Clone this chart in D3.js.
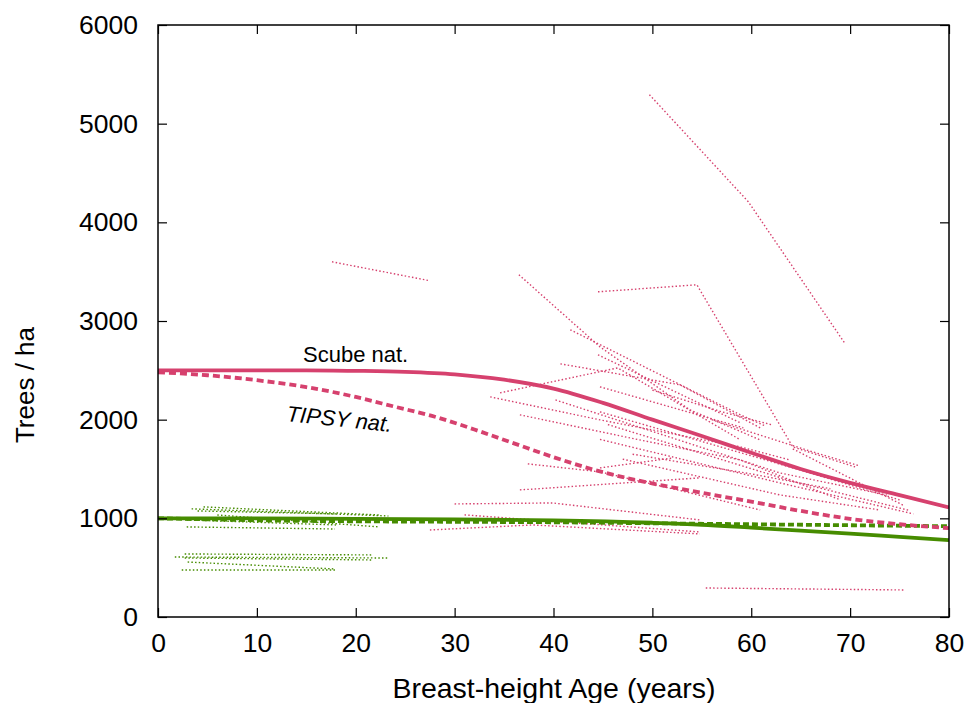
<!DOCTYPE html>
<html>
<head>
<meta charset="utf-8">
<script src="https://cdn.jsdelivr.net/npm/d3@7"></script>
<style>
  html, body { margin: 0; padding: 0; background: #fff; }
  svg { display: block; }
  text { font-family: "Liberation Sans", Arial, Helvetica, sans-serif; fill: #000; }
</style>
</head>
<body>
<svg id="chart" width="971" height="703"></svg>
<script>
// ---------------- data ----------------
const xTicks = [0, 10, 20, 30, 40, 50, 60, 70, 80];
const yTicks = [0, 1000, 2000, 3000, 4000, 5000, 6000];

// Scube natural (red, solid) and TIPSY natural (red, dashed)
const redScubeAge = [0, 5, 10, 15, 20, 25, 30, 35, 40, 45, 50, 55, 60, 65, 70, 75, 80];
const redScubeN   = [2500, 2500, 2500, 2500, 2495, 2485, 2460, 2405, 2315, 2170, 2000, 1835, 1665, 1500, 1360, 1235, 1110];
const redTipsyAge = [0, 5, 10, 15, 20, 24, 28, 32, 36, 40, 44, 48, 52, 56, 60, 65, 70, 75, 80];
const redTipsyN   = [2480, 2450, 2400, 2330, 2230, 2130, 2030, 1900, 1760, 1620, 1495, 1395, 1315, 1240, 1170, 1075, 995, 940, 900];

// green series
const greenScubeAge = [0, 10, 20, 30, 40, 50, 55, 60, 65, 70, 75, 80];
const greenScubeN   = [1000, 1000, 995, 990, 980, 955, 935, 905, 875, 845, 812, 780];
const greenTipsyAge = [0, 5, 10, 20, 30, 40, 50, 60, 70, 80];
const greenTipsyN   = [1000, 990, 980, 970, 965, 960, 950, 940, 930, 920];

// observed plot trajectories (red, dotted): [age, trees/ha]
const redPlots = [
  [[17.6, 3600], [27.5, 3408]],
  [[49.7, 5294], [59.7, 4209], [69.5, 2769]],
  [[44.5, 3296], [54.5, 3367], [64.2, 1724], [70.5, 1521]],
  [[36.5, 3469], [44.7, 2738], [53.8, 2099], [60.9, 1795]],
  [[41.7, 2911], [58.9, 2049], [61.4, 1937]],
  [[34.6, 2272], [46.5, 2525], [58.9, 1795]],
  [[44.5, 2657], [58.9, 1968]],
  [[40.7, 2566], [52.8, 2353], [60.9, 1917]],
  [[33.6, 2231], [44.7, 1998], [58.9, 1724], [63.9, 1592]],
  [[36.6, 2049], [48.7, 1795], [58.9, 1592], [69.0, 1187]],
  [[30.0, 1146], [39.9, 1156], [54.8, 984]],
  [[36.6, 1288], [48.7, 1369], [54.8, 1410]],
  [[31.0, 1035], [54.8, 862]],
  [[27.5, 882], [37.9, 933], [54.8, 842]],
  [[55.4, 294], [75.5, 274]],
  [[37.4, 1552], [44.7, 1471], [53.8, 1258], [60.9, 1085]],
  [[44.7, 1511], [52.1, 1612]],
  [[64.2, 1704], [75.5, 1126]],
  [[40.2, 2200], [62.9, 1460], [73.7, 1237]],
  [[44.7, 1800], [62.9, 1359], [76.4, 1045]],
  [[47.0, 1600], [62.9, 1237], [73.0, 1085]],
  [[44.7, 2333], [59.2, 1917]],
  [[44.7, 2079], [64.9, 1491], [75.0, 1187]],
  [[45.5, 1950], [64.0, 1380], [76.0, 1080]],
  [[50.0, 2300], [57.0, 2080], [62.0, 1950]],
  [[56.0, 2000], [66.0, 1680], [71.0, 1530]],
  [[48.0, 1650], [60.0, 1450], [68.0, 1300]]
];

// observed plot trajectories (green, dotted)
const greenPlots = [
  [[3.4, 1096], [23.3, 1024]],
  [[4.6, 1116], [22.4, 1034]],
  [[4.0, 1075], [18.0, 1045]],
  [[6.0, 1034], [22.4, 913]],
  [[2.9, 984], [18.0, 933]],
  [[2.9, 913], [17.9, 892]],
  [[1.7, 608], [23.3, 598]],
  [[2.7, 639], [21.7, 629]],
  [[2.7, 598], [21.7, 578]],
  [[3.0, 557], [17.9, 487]],
  [[2.4, 477], [17.9, 477]]
];

// ---------------- drawing ----------------
const RED = "#d6416e";
const GREEN = "#468c00";
const svg = d3.select("#chart");
const m = { left: 158, right: 949, top: 25, bottom: 617 };

const x = d3.scaleLinear().domain([0, 80]).range([m.left, m.right]);
const y = d3.scaleLinear().domain([0, 6000]).range([m.bottom, m.top]);

svg.append("defs").append("clipPath").attr("id", "clip")
  .append("rect").attr("x", m.left).attr("y", m.top)
  .attr("width", m.right - m.left).attr("height", m.bottom - m.top);

const line = d3.line().x(d => x(d[0])).y(d => y(d[1]));
const smooth = d3.line().x(d => x(d[0])).y(d => y(d[1])).curve(d3.curveMonotoneX);

const plotG = svg.append("g").attr("clip-path", "url(#clip)");

// dotted observation lines
plotG.selectAll(".rp").data(redPlots).join("path")
  .attr("d", line).attr("fill", "none").attr("stroke", RED)
  .attr("stroke-width", 1.4).attr("stroke-dasharray", "1.5,2.2");
plotG.selectAll(".gp").data(greenPlots).join("path")
  .attr("d", line).attr("fill", "none").attr("stroke", GREEN)
  .attr("stroke-width", 1.4).attr("stroke-dasharray", "1.5,2.2");

const zip = (a, b) => a.map((v, i) => [v, b[i]]);

plotG.append("path").datum(zip(greenScubeAge, greenScubeN)).attr("d", smooth)
  .attr("fill", "none").attr("stroke", GREEN).attr("stroke-width", 3.8);
plotG.append("path").datum(zip(greenTipsyAge, greenTipsyN)).attr("d", smooth)
  .attr("fill", "none").attr("stroke", GREEN).attr("stroke-width", 3.8).attr("stroke-dasharray", "6,3");
plotG.append("path").datum(zip(redTipsyAge, redTipsyN)).attr("d", smooth)
  .attr("fill", "none").attr("stroke", RED).attr("stroke-width", 3.8).attr("stroke-dasharray", "7,4");
plotG.append("path").datum(zip(redScubeAge, redScubeN)).attr("d", smooth)
  .attr("fill", "none").attr("stroke", RED).attr("stroke-width", 3.8);

// axes (ticks inward, mirrored)
const tickLen = 9;
const fmt = d3.format("d");
const axG = svg.append("g");
const xb = axG.append("g").attr("transform", `translate(0,${m.bottom})`)
  .call(d3.axisBottom(x).tickValues(xTicks).tickSize(-tickLen).tickPadding(16).tickFormat(fmt));
axG.append("g").attr("transform", `translate(0,${m.top})`)
  .call(d3.axisTop(x).tickValues(xTicks).tickSize(-tickLen).tickFormat(""));
axG.append("g").attr("transform", `translate(${m.left},0)`)
  .call(d3.axisLeft(y).tickValues(yTicks).tickSize(-tickLen).tickPadding(20).tickFormat(fmt));
axG.append("g").attr("transform", `translate(${m.right},0)`)
  .call(d3.axisRight(y).tickValues(yTicks).tickSize(-tickLen).tickFormat(""));
axG.selectAll(".domain").remove();
axG.selectAll(".tick line").attr("stroke", "#000").attr("stroke-width", 1.2);
axG.selectAll(".tick text").attr("font-size", 26.5).attr("font-family", "Liberation Sans, Arial, sans-serif");
xb.selectAll(".tick text").attr("dy", "0.71em");

svg.append("rect").attr("x", m.left).attr("y", m.top)
  .attr("width", m.right - m.left).attr("height", m.bottom - m.top)
  .attr("fill", "none").attr("stroke", "#000").attr("stroke-width", 1.5);

// axis titles
svg.append("text").attr("x", 554).attr("y", 698)
  .attr("text-anchor", "middle").attr("font-size", 28.5).text("Breast-height Age (years)");
svg.append("text").attr("transform", "translate(34,385) rotate(-90)")
  .attr("text-anchor", "middle").attr("font-size", 26).text("Trees / ha");

// labels
svg.append("text").attr("x", 303).attr("y", 362).attr("font-size", 22).text("Scube nat.");
svg.append("text").attr("transform", "translate(286,421) rotate(6)")
  .attr("font-size", 22).attr("font-style", "italic").text("TIPSY nat.");
</script>
</body>
</html>
